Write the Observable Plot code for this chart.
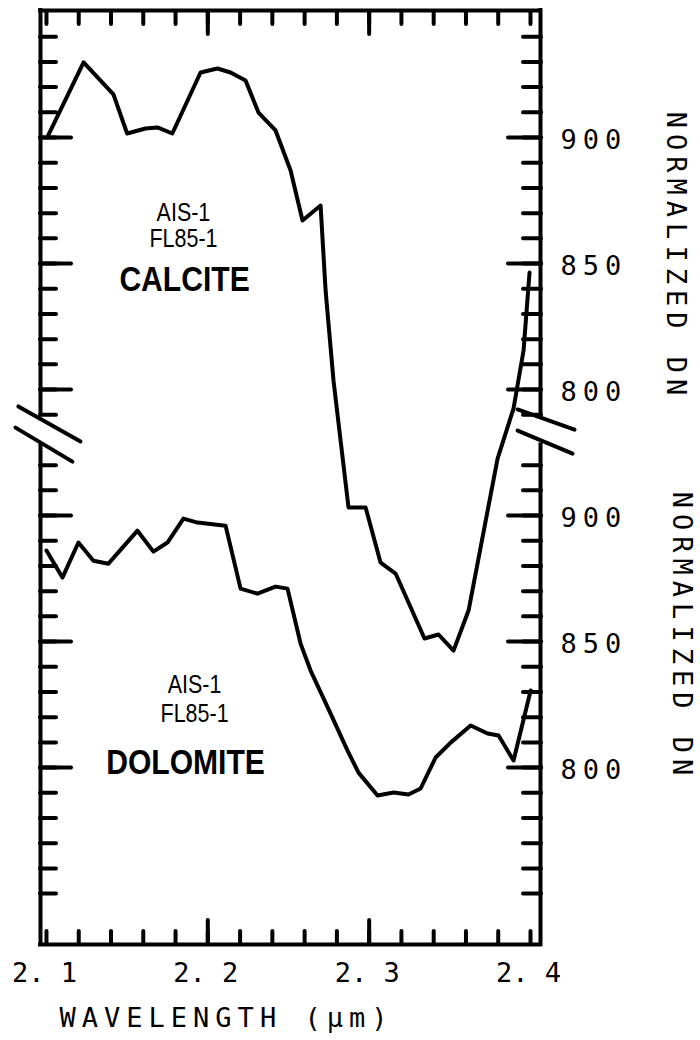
<!DOCTYPE html>
<html><head><meta charset="utf-8">
<script src="https://cdn.jsdelivr.net/npm/d3@7"></script>
<script src="https://cdn.jsdelivr.net/npm/@observablehq/plot@0.6"></script>
<style>
body{margin:0;background:#fff}
svg{display:block}
</style>
</head><body><div id="chart"></div>
<script>
// Calcite spectrum (upper panel, NORMALIZED DN)
const calciteWavelength = [2.101, 2.123, 2.1415, 2.150, 2.1614, 2.1688, 2.178, 2.1955, 2.206, 2.2141, 2.2234, 2.2314, 2.242, 2.2513, 2.2587, 2.2699, 2.2730, 2.2779, 2.2872, 2.2978, 2.3071, 2.3164, 2.3343, 2.3430, 2.3523, 2.3616, 2.3796, 2.3895, 2.3957, 2.3994];
const calciteDN = [900.8, 929.8, 917.1, 901.6, 903.6, 904.0, 901.6, 925.8, 927.4, 925.8, 922.6, 909.9, 902.8, 886.9, 867.1, 873.0, 839.3, 803.6, 753.2, 753.2, 731.3, 727.0, 701.2, 702.8, 696.4, 712.3, 772.6, 792.5, 815.5, 846.4];

// Dolomite spectrum (lower panel, NORMALIZED DN)
const dolomiteWavelength = [2.1000, 2.1099, 2.1198, 2.1291, 2.1384, 2.1564, 2.1663, 2.1750, 2.1849, 2.1936, 2.2110, 2.2203, 2.2308, 2.2420, 2.2494, 2.2575, 2.2637, 2.2761, 2.2866, 2.2934, 2.3052, 2.3151, 2.3244, 2.3319, 2.3412, 2.3505, 2.3629, 2.3734, 2.3802, 2.3895, 2.4001];
const dolomiteDN = [886.1, 875.4, 889.3, 882.1, 880.9, 894.0, 885.7, 889.3, 898.8, 897.2, 896.0, 871.0, 869.0, 871.8, 871.0, 849.2, 838.5, 821.4, 806.7, 798.0, 788.9, 790.1, 789.3, 791.7, 804.0, 809.9, 816.7, 813.5, 812.7, 802.8, 830.6];

// the lower panel's DN axis is shifted by this amount relative to the upper one
const dolomiteOffset = 150;

// ticks and tick labels
const xMinorTicks = [2.1, 2.12, 2.14, 2.16, 2.18, 2.2, 2.22, 2.24, 2.26, 2.28, 2.3, 2.32, 2.34, 2.36, 2.38, 2.4];
const xMajorTicks = [2.2, 2.3];
const xLabelValues = [2.1, 2.2, 2.3, 2.4];
const xTickLabels = ["2. 1", "2. 2", "2. 3", "2. 4"];
const yMinorTicks = [600,610,620,630,640,650,660,670,680,690,700,710,720,730,740,750,760,770,790,800,810,820,830,840,850,860,870,880,890,900,910,920,930,940];
const yMajorTicks = [900, 850, 800, 750, 700, 650];
const upperLabels = [900, 850, 800];
const lowerLabels = [900, 850, 800];
const xTitle = "WAVELENGTH (µm)";
const yTitle = "NORMALIZED DN";

// annotations
const calciteNotes = [
  {t: "AIS-1", x: 2.1849, dn: 870.2, size: 25},
  {t: "FL85-1", x: 2.1849, dn: 859.9, size: 25},
  {t: "CALCITE", x: 2.1856, dn: 843.7, size: 35}
];
const dolomiteNotes = [
  {t: "AIS-1", x: 2.1918, dn: 832.9, size: 25},
  {t: "FL85-1", x: 2.1918, dn: 821.4, size: 25},
  {t: "DOLOMITE", x: 2.1862, dn: 801.8, size: 35}
];

const xDomain = [2.0963, 2.4062];
const yDomain = [579.8, 950.4];
const breakHigh = 790, breakLow = 778;

const breakLinks = [
  {x1: 2.0826, y1: 793.3, x2: 2.1211, y2: 779.4},
  {x1: 2.0808, y1: 784.9, x2: 2.1161, y2: 771.4},
  {x1: 2.3920, y1: 792.1, x2: 2.4273, y2: 784.1},
  {x1: 2.3920, y1: 783.7, x2: 2.4261, y2: 774.6}
];

const calcite = calciteWavelength.map((w, i) => ({w, dn: calciteDN[i]}));
const dolomite = dolomiteWavelength.map((w, i) => ({w, dn: dolomiteDN[i]}));
const frameSides = [
  {x: xDomain[0], y1: yDomain[1], y2: breakHigh},
  {x: xDomain[0], y1: breakLow, y2: yDomain[0]},
  {x: xDomain[1], y1: yDomain[1], y2: breakHigh},
  {x: xDomain[1], y1: breakLow, y2: yDomain[0]}
];

const mono = "DejaVu Sans Mono";
const sans = "Liberation Sans, Arial, sans-serif";
const tickStyle = {fill: "none", stroke: "black", strokeWidth: 4, strokeLinecap: "round", label: null};
const monoText = {fontFamily: mono, fontSize: 27, fill: "black"};

const chart = Plot.plot({
  width: 700, height: 1040,
  marginLeft: 40, marginRight: 160, marginTop: 10, marginBottom: 96,
  x: {domain: xDomain},
  y: {domain: yDomain},
  style: {background: "white", color: "black"},
  marks: [
    Plot.ruleX(frameSides, {x: "x", y1: "y1", y2: "y2", stroke: "black", strokeWidth: 4, strokeLinecap: "square"}),
    Plot.ruleY([yDomain[0], yDomain[1]], {stroke: "black", strokeWidth: 4, strokeLinecap: "square"}),
    Plot.axisX(xMinorTicks, {anchor: "bottom", tickSize: 13, dy: -13, ...tickStyle}),
    Plot.axisX(xMajorTicks, {anchor: "bottom", tickSize: 24, dy: -24, ...tickStyle}),
    Plot.axisX(xMinorTicks, {anchor: "top", tickSize: 13, dy: 13, ...tickStyle}),
    Plot.axisX(xMajorTicks, {anchor: "top", tickSize: 23, dy: 23, ...tickStyle}),
    Plot.axisY(yMinorTicks, {anchor: "left", tickSize: 16, dx: 16, ...tickStyle}),
    Plot.axisY(yMajorTicks, {anchor: "left", tickSize: 31, dx: 31, ...tickStyle}),
    Plot.axisY(yMinorTicks, {anchor: "right", tickSize: 18, dx: -18, ...tickStyle}),
    Plot.axisY(yMajorTicks, {anchor: "right", tickSize: 33, dx: -33, ...tickStyle}),
    Plot.link(breakLinks, {x1: "x1", y1: "y1", x2: "x2", y2: "y2", stroke: "black", strokeWidth: 4, strokeLinecap: "round"}),
    Plot.line(calcite, {x: "w", y: "dn", stroke: "black", strokeWidth: 4, strokeLinejoin: "round", strokeLinecap: "round"}),
    Plot.line(dolomite, {x: "w", y: d => d.dn - dolomiteOffset, stroke: "black", strokeWidth: 4, strokeLinejoin: "round", strokeLinecap: "round"}),
    Plot.text(xLabelValues, {x: d => d, text: (d, i) => xTickLabels[i], frameAnchor: "bottom", dy: 37, dx: -2, ...monoText}),
    Plot.text([xTitle], {text: d => d, frameAnchor: "bottom", dx: -64, dy: 82, ...monoText, className: "spaced"}),
    Plot.text(upperLabels, {y: d => d, text: d => String(d), frameAnchor: "right", dx: 20, dy: 3, textAnchor: "start", ...monoText, className: "spaced"}),
    Plot.text(lowerLabels, {y: d => d - dolomiteOffset, text: d => String(d), frameAnchor: "right", dx: 20, dy: 3, textAnchor: "start", ...monoText, className: "spaced"}),
    Plot.text([yTitle], {text: d => d, frameAnchor: "top-right", textAnchor: "middle", dx: 146, dy: 246, rotate: 90, ...monoText, className: "spaced"}),
    Plot.text([yTitle], {text: d => d, frameAnchor: "top-right", textAnchor: "middle", dx: 152, dy: 626, rotate: 90, ...monoText, className: "spaced"}),
    ...[25, 35].map(sz => Plot.text(calciteNotes.filter(d => d.size === sz), {x: "x", y: "dn", text: "t", fontFamily: sans, fontSize: sz, fontWeight: sz === 35 ? "bold" : "normal", fill: "black", className: "narrow"})),
    ...[25, 35].map(sz => Plot.text(dolomiteNotes.filter(d => d.size === sz), {x: "x", y: d => d.dn - dolomiteOffset, text: "t", fontFamily: sans, fontSize: sz, fontWeight: sz === 35 ? "bold" : "normal", fill: "black", className: "narrow"}))
  ]
});
// wide letter spacing of the plotter lettering
chart.querySelectorAll("g.spaced").forEach(el => el.setAttribute("letter-spacing", "6"));
// condensed (narrow) lettering of the curve annotations
chart.querySelectorAll("g.narrow text").forEach(el => {
  const t = el.getAttribute("transform") || "";
  el.setAttribute("transform", t + " scale(0.86,1)");
});
document.getElementById("chart").appendChild(chart);
</script>
</body></html>
